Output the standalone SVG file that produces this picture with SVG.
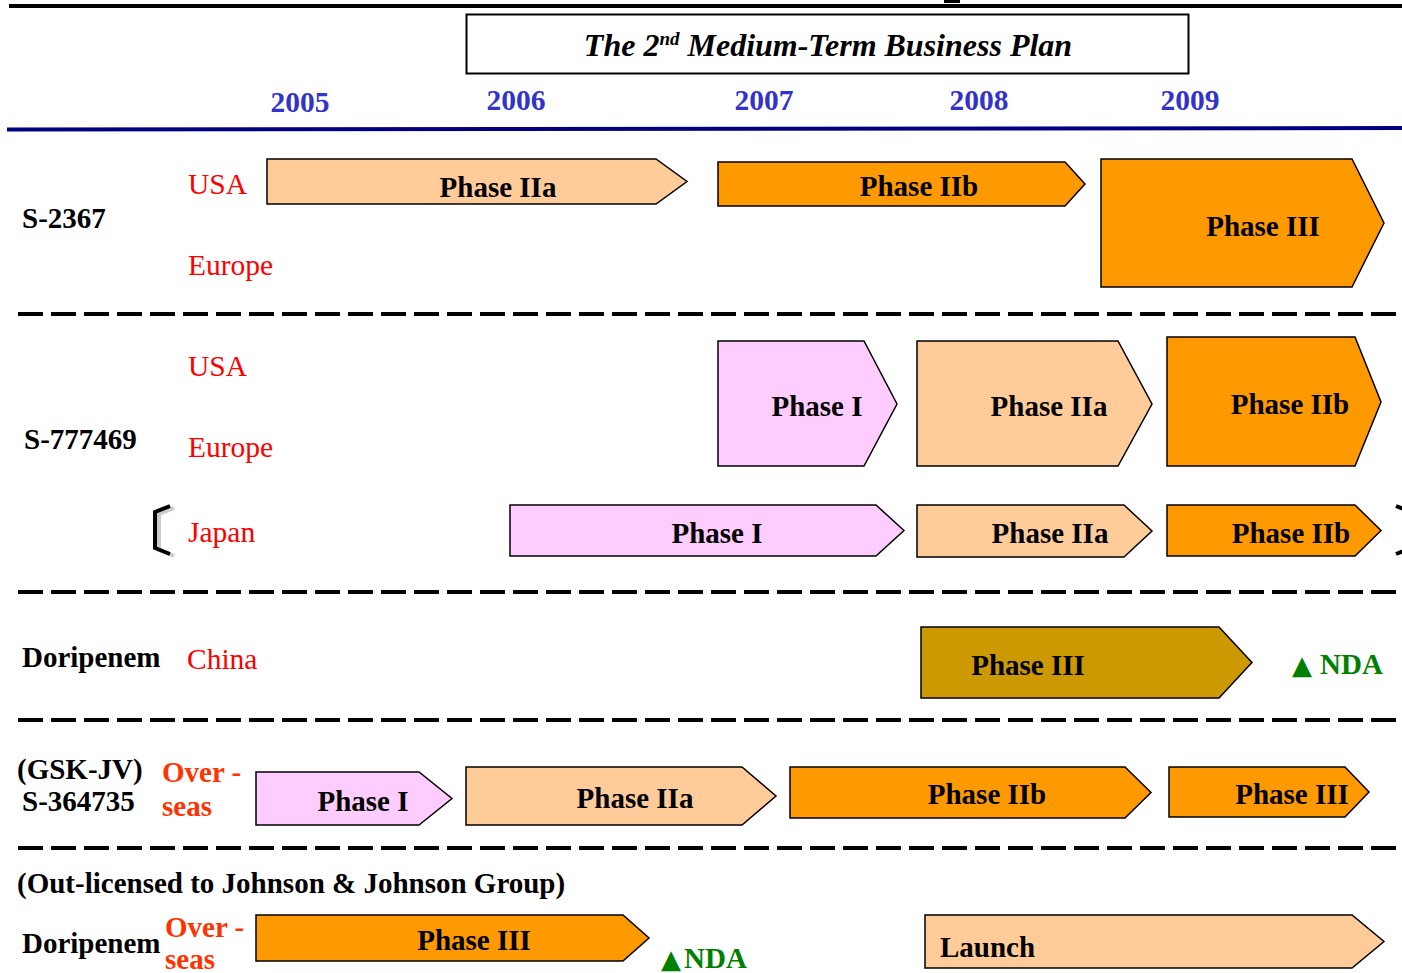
<svg xmlns="http://www.w3.org/2000/svg" width="1402" height="973" viewBox="0 0 1402 973">
<style>
.yr{font-family:"Liberation Serif",serif;font-weight:bold;font-size:29.5px;fill:#3333CC;text-anchor:middle}
.drug{font-family:"Liberation Serif",serif;font-weight:bold;font-size:29px;fill:#000}
.reg{font-family:"Liberation Serif",serif;font-size:29.5px;fill:#FF0000}
.ovr{font-family:"Liberation Serif",serif;font-weight:bold;font-size:29px;fill:#FF3300}
.ph{font-family:"Liberation Serif",serif;font-weight:bold;font-size:29px;fill:#000;text-anchor:middle}
.nda{font-family:"Liberation Serif",serif;font-weight:bold;font-size:29px;fill:#008000}
.tri{font-family:"DejaVu Sans",sans-serif;font-size:26px;fill:#008000}
.arr{stroke:#000;stroke-width:1.5;stroke-linejoin:miter}
.peach{fill:#FFCC99}.orange{fill:#FF9900}.pink{fill:#FFCCFF}.gold{fill:#CC9900}
.dash{stroke:#000;stroke-width:4;stroke-dasharray:25 8;fill:none}
</style>
<rect width="1402" height="973" fill="#fff"/>
<g id="header">
<line x1="9" y1="6" x2="1402" y2="6" stroke="#000" stroke-width="4"/>
<rect x="944" y="0" width="16" height="3" fill="#000"/>
<rect x="466.5" y="14.5" width="722" height="59" fill="#fff" stroke="#000" stroke-width="2"/>
<text x="828" y="56" font-family="Liberation Serif,serif" font-style="italic" font-weight="bold" font-size="32" text-anchor="middle">The 2<tspan font-size="19" dy="-11">nd</tspan><tspan dy="11"> Medium-Term Business Plan</tspan></text>
<text class="yr" x="300" y="112">2005</text>
<text class="yr" x="516" y="110">2006</text>
<text class="yr" x="764" y="110">2007</text>
<text class="yr" x="979" y="110">2008</text>
<text class="yr" x="1190" y="110">2009</text>
<line x1="7" y1="129.5" x2="1402" y2="128" stroke="#000080" stroke-width="4"/>
</g>
<g id="connectors">
<line class="dash" x1="18" y1="314" x2="1402" y2="314"/>
<line class="dash" x1="18" y1="592" x2="1402" y2="592"/>
<line class="dash" x1="18" y1="720" x2="1402" y2="720"/>
<line class="dash" x1="18" y1="848" x2="1402" y2="848"/>
</g>
<g id="s2367">
<text class="drug" x="22" y="228">S-2367</text>
<text class="reg" x="188" y="194">USA</text>
<text class="reg" x="188" y="275">Europe</text>
<polygon class="arr peach" points="267,159 656,159 687,181.5 656,204 267,204"/>
<text class="ph" x="498" y="197">Phase IIa</text>
<polygon class="arr orange" points="718,162 1065,162 1085,184 1065,206 718,206"/>
<text class="ph" x="919" y="196">Phase IIb</text>
<polygon class="arr orange" points="1101,159 1352,159 1384,223 1352,287 1101,287"/>
<text class="ph" x="1263" y="236">Phase III</text>
</g>
<g id="s777469">
<text class="drug" x="24" y="449">S-777469</text>
<text class="reg" x="188" y="376">USA</text>
<text class="reg" x="188" y="457">Europe</text>
<polygon class="arr pink" points="718,341 864,341 897,404 864,466 718,466"/>
<text class="ph" x="817" y="416">Phase I</text>
<polygon class="arr peach" points="917,341 1118,341 1152,404 1118,466 917,466"/>
<text class="ph" x="1049" y="416">Phase IIa</text>
<polygon class="arr orange" points="1167,337 1355,337 1381,402 1355,466 1167,466"/>
<text class="ph" x="1290" y="414">Phase IIb</text>
</g>
<g id="japan">
<polyline points="172,507 157,513 157,549 172,555" fill="none" stroke="#ccc" stroke-width="4" transform="translate(2,1)"/>
<polyline points="170,506 155,512 155,548 170,554" fill="none" stroke="#000" stroke-width="4"/>
<polyline points="1396,506 1411,512 1411,548 1396,554" fill="none" stroke="#000" stroke-width="4"/>
<text class="reg" x="188" y="542">Japan</text>
<polygon class="arr pink" points="510,505 876,505 904,530.5 876,556 510,556"/>
<text class="ph" x="717" y="543">Phase I</text>
<polygon class="arr peach" points="917,505 1124,505 1152,531 1124,557 917,557"/>
<text class="ph" x="1050" y="543">Phase IIa</text>
<polygon class="arr orange" points="1167,505 1355,505 1381,530.5 1355,556 1167,556"/>
<text class="ph" x="1291" y="543">Phase IIb</text>
</g>
<g id="doripenem-china">
<text class="drug" x="22" y="667">Doripenem</text>
<text class="reg" x="187" y="669">China</text>
<polygon class="arr gold" points="921,627 1219,627 1252,662.5 1219,698 921,698"/>
<text class="ph" x="1028" y="675">Phase III</text>
<text class="nda" x="1292" y="674"><tspan class="tri">▲</tspan><tspan x="1320">NDA</tspan></text>
</g>
<g id="s364735">
<text class="drug" x="17" y="779">(GSK-JV)</text>
<text class="drug" x="22" y="811">S-364735</text>
<text class="ovr" x="162" y="782">Over -</text>
<text class="ovr" x="162" y="816">seas</text>
<polygon class="arr pink" points="256,772 419,772 452,798.5 419,825 256,825"/>
<text class="ph" x="363" y="811">Phase I</text>
<polygon class="arr peach" points="466,767 742,767 776,796 742,825 466,825"/>
<text class="ph" x="635" y="808">Phase IIa</text>
<polygon class="arr orange" points="790,767 1125,767 1151,792.5 1125,818 790,818"/>
<text class="ph" x="987" y="804">Phase IIb</text>
<polygon class="arr orange" points="1169,767 1345,767 1369,792 1345,817 1169,817"/>
<text class="ph" x="1292" y="804">Phase III</text>
</g>
<g id="doripenem-overseas">
<text class="drug" x="17" y="893">(Out-licensed to Johnson &amp; Johnson Group)</text>
<text class="drug" x="22" y="953">Doripenem</text>
<text class="ovr" x="165" y="937">Over -</text>
<text class="ovr" x="165" y="969">seas</text>
<polygon class="arr orange" points="256,915 623,915 649,938 623,961 256,961"/>
<text class="ph" x="474" y="950">Phase III</text>
<text class="nda" x="661" y="968"><tspan class="tri">▲</tspan><tspan x="684">NDA</tspan></text>
<polygon class="arr peach" points="925,915 1352,915 1384,941.5 1352,968 925,968"/>
<text class="drug" x="940" y="957">Launch</text>
</g>
</svg>
